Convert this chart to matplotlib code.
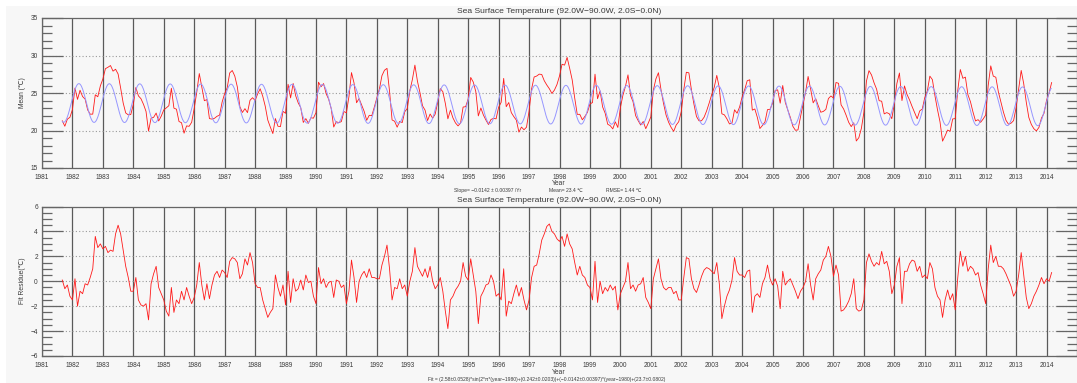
import numpy as np
import matplotlib.pyplot as plt
from matplotlib.patches import Rectangle
from matplotlib.ticker import MultipleLocator

plt.rcParams['font.family'] = ['Liberation Sans', 'DejaVu Sans']

# Monthly residuals from the harmonic fit (degC), starting Sep 1981
resid_1980s = [
    0.1, -0.6, -0.3, -1.2,
    -1.5, 0.2, -2.0, -0.8, -1.0, -0.2, -0.3, 0.3, 1.0, 3.6, 2.7, 3.0,
    2.6, 2.8, 2.3, 2.5, 2.4, 3.8, 4.5, 3.8, 2.5, 1.2, 0.3, -0.8,
    -0.8, 0.3, -1.5, -1.9, -2.0, -1.8, -3.1, -0.2, 0.6, 1.2, -0.5, -1.0,
    -1.5, -2.4, -2.8, -0.5, -2.5, -1.5, -1.8, -0.8, -1.5, -0.5, -1.2, -1.8,
    -1.3, -0.3, 1.5, -0.3, -1.5, -0.2, -1.4, -0.3, 0.5, 0.8, 0.3, 0.9,
    0.7, 0.3, 1.6, 1.9, 1.8, 1.5, 0.2, 0.6, 1.8, 1.3, 2.3, 1.5,
    -0.2, -0.5, -0.5, -1.5, -2.2, -2.9, -2.5, -2.2, 0.5, -0.5, -1.2, -0.3,
    -1.9, 0.8, -1.7, 0.2, -0.8, -0.6, 0.1, -0.7, 0.5, -0.1, 0.0, -1.2,
]
resid_1990s = [
    -1.8, 1.1, -0.2, 0.2, -0.5, -0.1, 0.0, -1.3, 0.1, 0.0, -0.5, -0.3,
    -1.8, -0.8, 1.7, 0.3, -1.7, 0.0, 0.5, 0.8, 0.3, 1.0, 0.3, 0.3,
    0.2, 0.2, 1.3, 2.0, 2.9, 1.0, -1.5, -0.5, -0.6, 0.2, -0.6, -0.3,
    -1.2, 0.0, 0.8, 2.7, 1.2, 0.8, 0.4, 1.0, 0.3, 1.2, 0.0, -0.6,
    -0.3, 0.3, -0.8, -2.4, -3.8, -1.5, -1.2, -0.7, -0.4, 0.0, 1.5, 0.4,
    0.1, 1.8, 0.5, -0.8, -3.4, -1.2, -0.8, -0.3, -0.2, 0.5, 0.0, -1.2,
    -1.0, -1.5, 1.0, -2.8, -1.6, -1.8, -1.0, -0.3, -1.2, -0.5, -1.5, -2.3,
    -1.5, 0.3, 1.2, 1.3, 2.2, 3.3, 3.8, 4.4, 4.6, 4.0, 3.8, 3.4,
    3.2, 3.6, 2.8, 3.8, 3.0, 2.6, 1.5, 0.5, 1.2, 0.5, 0.3, -0.3,
    -0.5, -1.5, 1.6, -1.7, 0.0, -1.0, -0.5, -0.8, -0.3, -0.7, -0.4, -2.3,
]
resid_2000s = [
    -1.0, -0.5, 0.0, 1.5, -0.6, -0.3, -0.8, -0.3, -0.2, 0.3, -1.3, -1.7,
    -2.2, 0.2, 1.0, 1.8, 0.2, -0.5, -0.7, -0.5, -0.5, -1.0, -0.8, -1.5,
    -1.5, 0.3, 1.9, 1.8, 0.2, -0.6, -0.9, -0.3, 0.4, 0.9, 1.1, 1.0,
    0.8, 0.6, 1.5, -0.2, -3.0, -2.0, -1.2, -0.7, 0.1, 1.9, 0.8, 0.5,
    0.5, 0.3, 0.8, 0.9, -2.5, -1.2, -1.0, -1.3, -0.2, 0.3, 1.3, 0.2,
    -0.3, 0.2, -0.4, -2.2, 0.8, -0.3, 0.0, 0.2, -0.3, -0.8, -1.4, -0.8,
    -0.5, 0.0, 1.4, -0.3, -1.5, 0.2, 0.6, 0.9, 1.7, 2.0, 2.8, 2.0,
    0.4, 1.3, 0.5, -2.4, -2.3, -2.0, -1.6, -1.0, 0.2, -2.2, -2.4, -2.3,
    -1.5, 1.5, 2.2, 1.6, 1.2, 1.5, 1.3, 2.4, 1.4, 1.6, 0.8, -1.0,
    -0.3, 1.2, 1.9, -1.8, 0.8, 0.8, 1.4, 1.7, 1.6, 0.8, 1.2, 0.3,
]
resid_2010s = [
    0.5, 0.2, 1.5, 1.0, -0.5, -1.2, -1.5, -2.9, -1.5, -0.7, -1.5, -1.0,
    -2.3, 0.3, 2.4, 1.2, 2.0, 0.8, 1.2, 1.0, 0.5, 0.7, -0.3, -1.0,
    -1.8, 1.0, 2.9, 1.5, 2.0, 1.2, 1.2, 1.0, 0.6, 0.1, -0.4, -1.2,
    -0.8, 0.5, 2.3, 0.5, -1.3, -2.2, -1.8, -1.2, -0.8, -0.3, 0.3, -0.2,
    0.2, 0.0, 0.7,
]
start_year = 1981 + 8 / 12

# fit coefficients: amp*sin(2*pi*(year-1980)+phase) + slope*(year-1980) + offset
amp, phase, slope, offset = 2.58, 0.242, -0.0142, 23.7

title = 'Sea Surface Temperature (92.0W\u221290.0W, 2.0S\u22120.0N)'
fit_label = ('Fit = (2.58\u00b10.0528)*sin(2*\u03c0*(year\u22121980)+(0.242\u00b10.0203))'
             '+(\u22120.0142\u00b10.00397)*(year\u22121980)+(23.7\u00b10.0802)')


def harmonic(yr):
    return amp * np.sin(2 * np.pi * (yr - 1980) + phase) + slope * (yr - 1980) + offset


resid = np.array(resid_1980s + resid_1990s + resid_2000s + resid_2010s)
t = start_year + np.arange(len(resid)) / 12
sst = harmonic(t) + resid
t_fine = np.arange(t[0], t[-1], 7 / 365.25)

W, H = 1077, 383
bg = '#f7f7f7'
ink = '#3a3a3a'
fig = plt.figure(figsize=(W / 100, H / 100), dpi=100, facecolor='white')
fig.patches.append(Rectangle((6 / W, 0), 1, 1 - 6 / H, transform=fig.transFigure,
                             facecolor=bg, edgecolor='none', zorder=-5))

ax1 = fig.add_axes([42 / W, 1 - 168 / H, 1035 / W, 150 / H])
ax2 = fig.add_axes([42 / W, 1 - 356 / H, 1035 / W, 149.5 / H])


def style(ax, ylo, yhi, major, minor, ylabel):
    ax.set_facecolor(bg)
    ax.set_xlim(1981, 2015)
    ax.set_ylim(ylo, yhi)
    ax.set_xticks(range(1981, 2015))
    ax.set_xticklabels([str(y) for y in range(1981, 2015)], fontsize=4.7, color=ink)
    ax.set_yticks(np.arange(ylo, yhi + 0.01, major))
    ax.yaxis.set_minor_locator(MultipleLocator(minor))
    ax.tick_params(axis='x', length=0, pad=4)
    ax.tick_params(axis='y', which='both', direction='in', left=True, right=True,
                   color='#666666', width=0.9, labelsize=4.7, labelcolor=ink, pad=3)
    ax.tick_params(axis='y', which='major', length=15)
    ax.tick_params(axis='y', which='minor', length=7.5)
    ax.grid(axis='x', color='#5a5a5a', lw=0.9, ls='-')
    ax.grid(axis='y', which='major', color='#9a9a9a', lw=0.8, ls=(0, (1, 2)))
    for s in ax.spines.values():
        s.set_color('#666666')
        s.set_linewidth(0.9)
    ax.set_ylabel(ylabel, fontsize=4.9, color=ink)
    ax.yaxis.set_label_coords(-16 / 1035, 0.5)
    ax.set_title(title, fontsize=6.1, color=ink, pad=3.3)


style(ax1, 15, 35, 5, 1, 'Mean (\u2103)')
ax1.plot(t, sst, color='#ff1a1a', lw=0.6)
ax1.plot(t_fine, harmonic(t_fine), color='#9696ff', lw=0.7)

style(ax2, -6, 6, 2, 0.5, 'Fit Residue(\u2103)')
ax2.plot(t, resid, color='#ff1a1a', lw=0.6)

fig.text(559 / W, 1 - 183.5 / H, 'Year', ha='center', va='center', fontsize=4.9, color=ink)
fig.text(454 / W, 1 - 191 / H, 'Slope= \u22120.0142 \u00b1 0.00397 /Yr', ha='left', va='center',
         fontsize=3.6, color=ink)
fig.text(549 / W, 1 - 191 / H, 'Mean= 23.4 \u2103', ha='left', va='center', fontsize=3.6, color=ink)
fig.text(606 / W, 1 - 191 / H, 'RMSE= 1.44 \u2103', ha='left', va='center', fontsize=3.6, color=ink)
fig.text(559 / W, 1 - 372.5 / H, 'Year', ha='center', va='center', fontsize=4.9, color=ink)
fig.text(547 / W, 1 - 379.5 / H, fit_label, ha='center', va='center', fontsize=3.6, color=ink)

fig.savefig('out.png', dpi=100, facecolor=fig.get_facecolor())
